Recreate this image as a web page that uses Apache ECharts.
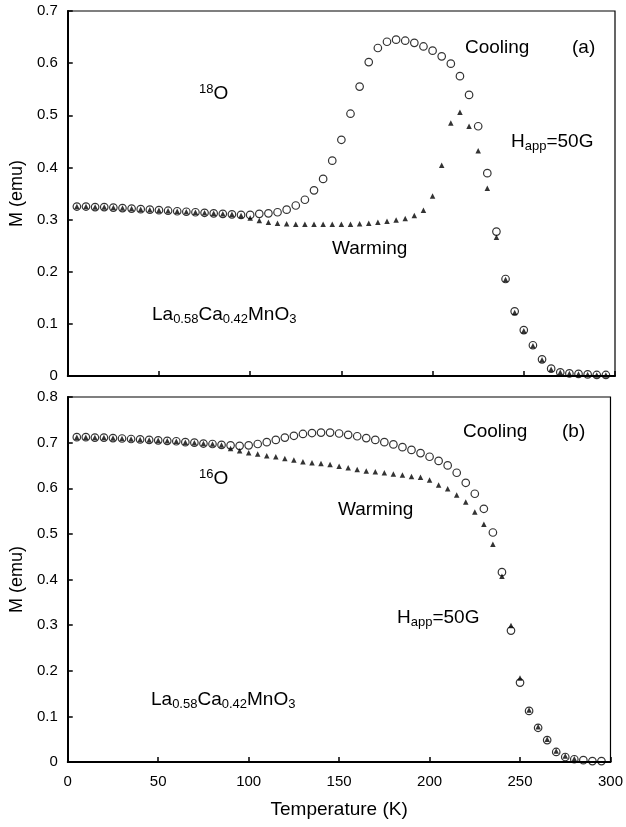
<!DOCTYPE html>
<html><head><meta charset="utf-8">
<script src="https://cdn.jsdelivr.net/npm/echarts@6/dist/echarts.min.js"></script>
<style>html,body{margin:0;padding:0;background:#fff}#c{width:626px;height:827px}</style>
</head><body><div id="c"></div>
<script>
// Temperatures (K)
const temps = [5,10,15,20,25,30,35,40,45,50,55,60,65,70,75,80,85,90,95,100,
  105,110,115,120,125,130,135,140,145,150,155,160,165,170,175,180,185,190,195,200,
  205,210,215,220,225,230,235,240,245,250,255,260,265,270,275,280,285,290,295];

// Panel (a) 18O : M (emu)
const coolingA = [0.325,0.325,0.324,0.324,0.323,0.322,0.321,0.320,0.319,0.318,0.317,0.316,0.315,0.314,0.313,0.312,0.311,0.310,0.309,0.309,
  0.311,0.312,0.314,0.319,0.327,0.338,0.356,0.378,0.413,0.453,0.503,0.555,0.602,0.629,0.641,0.645,0.643,0.639,0.632,0.624,
  0.613,0.599,0.575,0.539,0.479,0.389,0.277,0.186,0.124,0.088,0.059,0.032,0.014,0.007,0.005,0.004,0.003,0.002,0.002];
const warmingA = [0.325,0.325,0.324,0.324,0.323,0.322,0.321,0.320,0.319,0.318,0.317,0.316,0.315,0.314,0.313,0.312,0.311,0.310,0.308,0.303,
  0.298,0.295,0.293,0.292,0.291,0.291,0.291,0.291,0.291,0.291,0.291,0.292,0.293,0.295,0.297,0.299,0.302,0.308,0.318,0.345,
  0.404,0.485,0.506,0.479,0.432,0.360,0.266,0.185,0.122,0.087,0.058,0.031,0.013,0.007,0.005,0.004,0.003,0.002,0.002];

// Panel (b) 16O : M (emu)
const coolingB = [0.712,0.712,0.711,0.711,0.710,0.709,0.708,0.707,0.706,0.705,0.704,0.703,0.701,0.700,0.698,0.697,0.695,0.694,0.693,0.694,
  0.697,0.701,0.706,0.711,0.715,0.719,0.721,0.722,0.722,0.720,0.717,0.714,0.710,0.706,0.701,0.696,0.690,0.684,0.677,0.669,
  0.660,0.650,0.634,0.612,0.588,0.555,0.503,0.416,0.288,0.174,0.112,0.075,0.048,0.022,0.011,0.006,0.004,0.002,0.002];
const warmingB = [0.712,0.712,0.711,0.711,0.710,0.709,0.708,0.707,0.706,0.705,0.704,0.703,0.701,0.700,0.698,0.697,0.695,0.687,0.682,0.678,
  0.675,0.671,0.669,0.665,0.662,0.658,0.656,0.654,0.652,0.648,0.645,0.641,0.638,0.636,0.634,0.631,0.629,0.626,0.624,0.618,
  0.607,0.599,0.585,0.570,0.548,0.521,0.477,0.407,0.299,0.184,0.114,0.077,0.050,0.024,0.013,0.007,null,null,null];

// Tick labels
const xTicks = ['0','50','100','150','200','250','300'];
const yTicksA = ['0','0.1','0.2','0.3','0.4','0.5','0.6','0.7'];
const yTicksB = ['0','0.1','0.2','0.3','0.4','0.5','0.6','0.7','0.8'];

const FONT = '"Liberation Sans", Arial, Helvetica, sans-serif';
function pairs(t, v) { const out = []; t.forEach((x, i) => { if (v[i] != null) out.push([x, v[i]]); }); return out; }

const chart = echarts.init(document.getElementById('c'), null, { renderer: 'canvas' });

const axisLine = { show: true, onZero: false, lineStyle: { color: '#000', width: 2 } };
const axisTick = { show: true, inside: true, length: 5, lineStyle: { color: '#000', width: 1.5 } };
const labelStyle = { color: '#000', fontSize: 15, fontFamily: FONT };

function xAxis(gi, showLabels) {
  return {
    gridIndex: gi, type: 'value', min: 0, max: 300, interval: 50,
    axisLine, axisTick, splitLine: { show: false },
    axisLabel: Object.assign({ show: showLabels, margin: 12,
      formatter: v => xTicks[Math.round(v / 50)] }, labelStyle),
    name: showLabels ? 'Temperature (K)' : '', nameLocation: 'middle', nameGap: 38,
    nameTextStyle: { color: '#000', fontSize: 19, fontFamily: FONT }
  };
}
function yAxis(gi, max, ticks) {
  return {
    gridIndex: gi, type: 'value', min: 0, max: max, interval: 0.1,
    axisLine, axisTick, splitLine: { show: false },
    axisLabel: Object.assign({ margin: 10, formatter: v => ticks[Math.round(v * 10)] }, labelStyle),
    name: 'M (emu)', nameLocation: 'middle', nameGap: 36,
    nameTextStyle: { color: '#000', fontSize: 18, fontFamily: FONT }
  };
}

const circleStyle = { color: 'rgba(0,0,0,0)', borderColor: '#000', borderWidth: 1.2 };
const triStyle = { color: '#000' };
function cool(idx, data) {
  return { type: 'scatter', xAxisIndex: idx, yAxisIndex: idx, data, symbol: 'circle', symbolSize: 7.5,
    itemStyle: circleStyle, silent: true, z: 2 };
}
function warm(idx, data) {
  return { type: 'scatter', xAxisIndex: idx, yAxisIndex: idx, data, symbol: 'triangle', symbolSize: 5.5,
    itemStyle: triStyle, silent: true, z: 3 };
}

const rich = {
  m: { fontSize: 19, fontFamily: FONT, lineHeight: 22, fill: '#000', color: '#000' },
  s: { fontSize: 13, fontFamily: FONT, lineHeight: 14, verticalAlign: 'bottom', fill: '#000', color: '#000' },
  p: { fontSize: 13, fontFamily: FONT, lineHeight: 10, verticalAlign: 'top', fill: '#000', color: '#000' }
};
function txt(x, y, text) {
  return { type: 'text', x, y, silent: true, z: 10,
    style: { text, fill: '#000', fontSize: 19, fontFamily: FONT, align: 'left', verticalAlign: 'middle', rich } };
}

chart.setOption({
  animation: false,
  backgroundColor: '#fff',
  grid: [
    { left: 63, right: 11, top: 11, height: 365, show: true, borderColor: '#000', borderWidth: 1.2, backgroundColor: 'transparent' },
    { left: 63, right: 11, top: 397, height: 365, show: true, borderColor: '#000', borderWidth: 1.2, backgroundColor: 'transparent' }
  ],
  xAxis: [xAxis(0, false), xAxis(1, true)],
  yAxis: [yAxis(0, 0.7, yTicksA), yAxis(1, 0.8, yTicksB)],
  series: [
    cool(0, pairs(temps, coolingA)), warm(0, pairs(temps, warmingA)),
    cool(1, pairs(temps, coolingB)), warm(1, pairs(temps, warmingB))
  ],
  graphic: [
    txt(199, 93.5, '{p|18}{m|O}'),
    txt(465, 48, '{m|Cooling}'),
    txt(572, 48, '{m|(a)}'),
    txt(511, 141.5, '{m|H}{s|app}{m|=50G}'),
    txt(332, 249, '{m|Warming}'),
    txt(152, 315, '{m|La}{s|0.58}{m|Ca}{s|0.42}{m|MnO}{s|3}'),
    txt(463, 432, '{m|Cooling}'),
    txt(562, 432, '{m|(b)}'),
    txt(199, 478.5, '{p|16}{m|O}'),
    txt(338, 510, '{m|Warming}'),
    txt(397, 617.5, '{m|H}{s|app}{m|=50G}'),
    txt(151, 699.5, '{m|La}{s|0.58}{m|Ca}{s|0.42}{m|MnO}{s|3}')
  ]
});
</script></body></html>
